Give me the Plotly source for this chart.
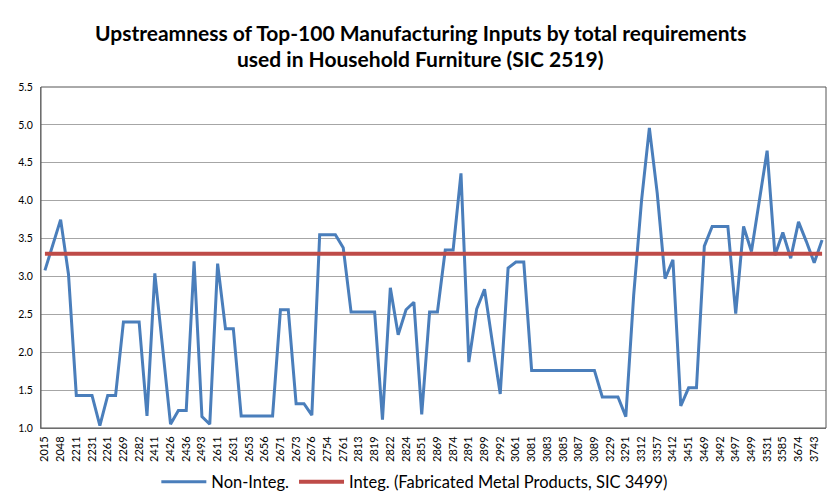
import plotly.graph_objects as go

# SIC codes labelled on the category axis (every second input is labelled)
tick_labels = [
    "2015", "2048", "2211", "2231", "2261", "2269", "2282", "2411", "2426", "2436",
    "2493", "2611", "2631", "2653", "2656", "2671", "2673", "2676", "2754", "2761",
    "2813", "2819", "2822", "2824", "2851", "2869", "2874", "2891", "2899", "2992",
    "3061", "3081", "3083", "3085", "3087", "3089", "3229", "3291", "3312", "3357",
    "3412", "3451", "3469", "3492", "3497", "3499", "3531", "3585", "3674", "3743",
]

# Upstreamness of each of the top-100 inputs (non-integrated)
non_integ = [
    3.08, 3.42, 3.75, 3.03, 1.43, 1.43, 1.43, 1.03, 1.43, 1.43,
    2.40, 2.40, 2.40, 1.16, 3.04, 2.05, 1.05, 1.23, 1.23, 3.20,
    1.15, 1.05, 3.17, 2.31, 2.31, 1.16, 1.16, 1.16, 1.16, 1.16,
    2.56, 2.56, 1.32, 1.32, 1.17, 3.55, 3.55, 3.55, 3.38, 2.53,
    2.53, 2.53, 2.53, 1.11, 2.85, 2.23, 2.56, 2.66, 1.18, 2.53,
    2.53, 3.35, 3.35, 4.36, 1.87, 2.57, 2.83, 2.13, 1.45, 3.11,
    3.19, 3.19, 1.76, 1.76, 1.76, 1.76, 1.76, 1.76, 1.76, 1.76,
    1.76, 1.41, 1.41, 1.41, 1.15, 2.75, 4.00, 4.96, 4.10, 2.97,
    3.22, 1.29, 1.53, 1.53, 3.40, 3.66, 3.66, 3.66, 2.51, 3.66,
    3.33, 3.98, 4.66, 3.28, 3.58, 3.24, 3.72, 3.46, 3.18, 3.48,
]

# Upstreamness of the integrated input (Fabricated Metal Products, SIC 3499)
integ_value = 3.30

positions = list(range(len(non_integ)))
integ = [integ_value] * len(non_integ)

fig = go.Figure()
fig.add_trace(go.Scatter(
    x=positions, y=non_integ, mode="lines", name="Non-Integ.",
    line=dict(color="#4A7EBB", width=3),
))
fig.add_trace(go.Scatter(
    x=positions, y=integ, mode="lines",
    name="Integ. (Fabricated Metal Products, SIC 3499)",
    line=dict(color="#BE4B48", width=4),
))

title_lines = [
    "Upstreamness of Top-100 Manufacturing Inputs by total requirements",
    "used in Household Furniture (SIC 2519)",
]
for line, ypos in zip(title_lines, [1.161, 1.085]):
    fig.add_annotation(
        text=f"<b>{line}</b>", x=0.483, y=ypos, xref="paper", yref="paper",
        xanchor="center", yanchor="middle", showarrow=False,
        font=dict(family="Lato, sans-serif", size=21, color="#000000"),
    )

fig.update_layout(
    width=833, height=498,
    margin=dict(l=41, r=7, t=87, b=70, autoexpand=False),
    paper_bgcolor="white", plot_bgcolor="white",
    font=dict(family="Lato, sans-serif", color="#000000"),
    showlegend=True,
    legend=dict(
        orientation="h", xref="container", yref="container",
        x=0.498, y=0.032, xanchor="center", yanchor="middle",
        font=dict(size=16.5), itemwidth=45,
    ),
    shapes=[dict(
        type="rect", xref="paper", yref="paper", x0=0, x1=1, y0=0, y1=1,
        line=dict(color="#555555", width=1), fillcolor="rgba(0,0,0,0)", layer="above",
    )],
)

fig.update_xaxes(
    range=[-0.5, len(non_integ) - 0.5],
    tickmode="array",
    tickvals=positions[::2],
    ticktext=tick_labels,
    tickangle=-90,
    tickfont=dict(size=11),
    showgrid=False, zeroline=False,
    showline=True, linecolor="#868686", linewidth=1,
    ticks="", ticklabelstandoff=3, automargin=False,
)
fig.update_yaxes(
    range=[1.0, 5.5], dtick=0.5, tick0=1.0, tickformat=".1f",
    tickfont=dict(size=10.5),
    showgrid=True, gridcolor="#A6A6A6", gridwidth=1,
    zeroline=False,
    showline=True, linecolor="#868686", linewidth=1,
    ticks="", ticklabelstandoff=5, automargin=False,
)

fig.write_html("out.html")
